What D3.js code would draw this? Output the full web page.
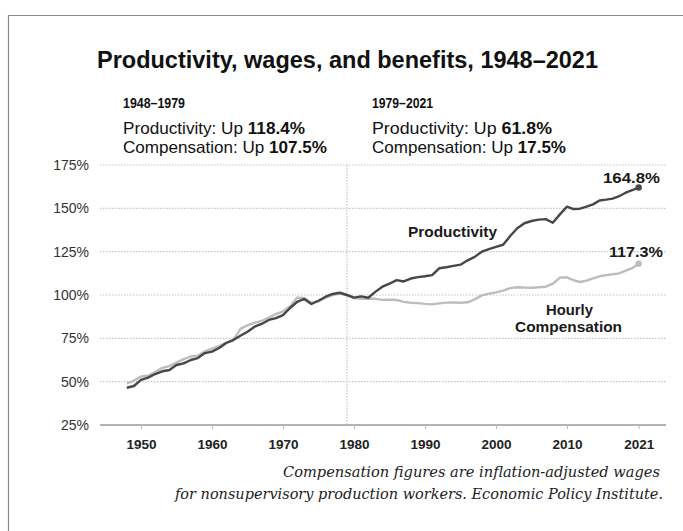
<!DOCTYPE html>
<html>
<head>
<meta charset="utf-8">
<script src="https://cdn.jsdelivr.net/npm/d3@7"></script>
<style>
  body { margin: 0; background: #fff; }
  svg { display: block; }
  .sans { font-family: "Liberation Sans", Arial, Helvetica, sans-serif; }
  .note { font-family: "DejaVu Serif", "Liberation Serif", serif; font-style: italic; }
</style>
</head>
<body>
<script>

// years 1948..2021
var firstYear = 1948;

var productivity = [
    46.5, 47.5, 51, 52.3, 54.4, 56, 56.7, 59.6, 60.6, 62.5,
    63.6, 66.5, 67.3, 69.4, 72.3, 74, 76.5, 78.8, 81.7, 83.3,
    85.6, 86.7, 88.4, 92.5, 96.1, 97.7, 94.8, 96.7, 99, 100.6,
    101.3, 100, 98.5, 99.2, 98.4, 101.8, 104.8, 106.5, 108.6, 107.8,
    109.5, 110.3, 110.8, 111.5, 115.4, 116, 116.8, 117.5, 120, 122,
    125, 126.5, 127.8, 129, 134, 138.5, 141.4, 142.7, 143.5, 143.8,
    141.7, 146.5, 151, 149.6, 149.8, 151, 152.3, 154.5, 155, 155.6,
    157, 159, 160.5, 162
];

var compensation = [
    49, 50.5, 53, 53.5, 55.5, 58, 59, 61, 63, 64.5,
    65, 67.5, 69, 70.5, 72.5, 74, 80.5, 82.5, 84, 85,
    87, 89, 90.5, 93.5, 98.5, 98.3, 95.5, 96.5, 98.5, 100,
    101, 100, 98.3, 97.8, 98, 97.8, 97.2, 97.3, 97.1, 96,
    95.5, 95.3, 94.9, 94.6, 95.2, 95.6, 95.7, 95.5, 95.8, 97.5,
    99.8, 100.8, 101.5, 102.5, 104, 104.5, 104.3, 104.2, 104.5, 104.8,
    106.5, 110, 110.2, 108.5, 107.5, 108.3, 109.6, 110.8, 111.5, 112,
    112.5, 114, 115.5, 118
];

var yTicks = [25, 50, 75, 100, 125, 150, 175];
var xTicks = [1950, 1960, 1970, 1980, 1990, 2000, 2010, 2021];
var splitYear = 1979;

var periodHeads = ["1948\u20131979", "1979\u20132021"];
var periodProd = ["118.4%", "61.8%"];
var periodComp = ["107.5%", "17.5%"];
var endLabels = ["164.8%", "117.3%"];

var width = 683, height = 531;

var svg = d3.select("body").append("svg")
    .attr("width", width)
    .attr("height", height);

// frame
svg.append("path")
    .attr("d", "M8.5,531 L8.5,15.5 L683,15.5")
    .attr("fill", "none")
    .attr("stroke", "#8a8a8a")
    .attr("stroke-width", 1.2);

var years = productivity.map(function(d, i) { return firstYear + i; });

var x = d3.scaleLinear()
    .domain([1948, 2010, 2021])
    .range([126.8, 567, 638.7]);

var y = d3.scaleLinear()
    .domain([25, 175])
    .range([425, 165]);

var plotLeft = 100, plotRight = 666;

// gridlines
svg.append("g").selectAll("line")
    .data(yTicks.filter(function(d) { return d > 25; }))
    .enter().append("line")
    .attr("x1", plotLeft)
    .attr("x2", plotRight)
    .attr("y1", function(d) { return y(d); })
    .attr("y2", function(d) { return y(d); })
    .attr("stroke", "#c4c4c4")
    .attr("stroke-width", 1.2)
    .attr("stroke-dasharray", "1.5,1.5");

// 1979 divider
svg.append("line")
    .attr("x1", x(splitYear))
    .attr("x2", x(splitYear))
    .attr("y1", y(175))
    .attr("y2", y(25))
    .attr("stroke", "#c4c4c4")
    .attr("stroke-width", 1.2)
    .attr("stroke-dasharray", "1.5,1.5");

// y axis labels
svg.append("g").selectAll("text")
    .data(yTicks)
    .enter().append("text")
    .attr("class", "sans")
    .attr("x", 89)
    .attr("y", function(d) { return y(d) + 5; })
    .attr("text-anchor", "end")
    .attr("font-size", 14)
    .attr("fill", "#333")
    .text(function(d) { return d + "%"; });

// x axis
var xAxis = svg.append("g")
    .attr("transform", "translate(0," + y(25) + ")")
    .call(d3.axisBottom(x).tickValues(xTicks).tickFormat(d3.format("d")).tickSize(4).tickPadding(10));

xAxis.select(".domain")
    .attr("d", "M" + plotLeft + ",0H" + plotRight)
    .attr("stroke", "#9a9a9a")
    .attr("stroke-width", 1.4);

xAxis.selectAll(".tick line")
    .attr("stroke", "#bbb");

xAxis.selectAll(".tick text")
    .attr("class", "sans")
    .attr("font-size", 13.5)
    .attr("font-weight", "bold")
    .attr("fill", "#222");

// lines
var line = d3.line()
    .x(function(d, i) { return x(years[i]); })
    .y(function(d) { return y(d); });

svg.append("path")
    .datum(compensation)
    .attr("fill", "none")
    .attr("stroke", "#bdbdbd")
    .attr("stroke-width", 2.4)
    .attr("stroke-linejoin", "round")
    .attr("d", line);

svg.append("path")
    .datum(productivity)
    .attr("fill", "none")
    .attr("stroke", "#474747")
    .attr("stroke-width", 2.4)
    .attr("stroke-linejoin", "round")
    .attr("d", line);

var lastYear = years[years.length - 1];

svg.append("circle")
    .attr("cx", x(lastYear))
    .attr("cy", y(productivity[productivity.length - 1]))
    .attr("r", 3.2)
    .attr("fill", "#474747");

svg.append("circle")
    .attr("cx", x(lastYear))
    .attr("cy", y(compensation[compensation.length - 1]))
    .attr("r", 3.2)
    .attr("fill", "#bdbdbd");

// bold labels inside the plot
function boldLabel(tx, ty, len, str) {
    return svg.append("text")
        .attr("class", "sans")
        .attr("x", tx)
        .attr("y", ty)
        .attr("font-size", 14.5)
        .attr("font-weight", "bold")
        .attr("fill", "#1a1a1a")
        .attr("textLength", len)
        .attr("lengthAdjust", "spacingAndGlyphs")
        .text(str);
}

boldLabel(603, 183, 57, endLabels[0]);
boldLabel(609, 257, 54, endLabels[1]);
boldLabel(408, 237, 89, "Productivity");
boldLabel(546, 315, 47, "Hourly");
boldLabel(515, 332, 107, "Compensation");

// title
svg.append("text")
    .attr("class", "sans")
    .attr("x", 97)
    .attr("y", 68)
    .attr("font-size", 23)
    .attr("font-weight", "bold")
    .attr("fill", "#111")
    .attr("textLength", 501)
    .attr("lengthAdjust", "spacingAndGlyphs")
    .text("Productivity, wages, and benefits, 1948\u20132021");

// period summaries
var blockX = [123, 372];
var headLen = [62, 61];
var prodLen = [182, 180];
var compLen = [204, 194];

blockX.forEach(function(bx, i) {
    svg.append("text")
        .attr("class", "sans")
        .attr("x", bx)
        .attr("y", 108)
        .attr("font-size", 15)
        .attr("font-weight", "bold")
        .attr("fill", "#111")
        .attr("textLength", headLen[i])
        .attr("lengthAdjust", "spacingAndGlyphs")
        .text(periodHeads[i]);

    var t1 = svg.append("text")
        .attr("class", "sans")
        .attr("x", bx)
        .attr("y", 133.5)
        .attr("font-size", 16.5)
        .attr("fill", "#111")
        .attr("textLength", prodLen[i])
        .attr("lengthAdjust", "spacingAndGlyphs");
    t1.append("tspan").text("Productivity: Up ");
    t1.append("tspan").attr("font-weight", "bold").text(periodProd[i]);

    var t2 = svg.append("text")
        .attr("class", "sans")
        .attr("x", bx)
        .attr("y", 153)
        .attr("font-size", 16.5)
        .attr("fill", "#111")
        .attr("textLength", compLen[i])
        .attr("lengthAdjust", "spacingAndGlyphs");
    t2.append("tspan").text("Compensation: Up ");
    t2.append("tspan").attr("font-weight", "bold").text(periodComp[i]);
});

// note
svg.append("text")
    .attr("class", "note")
    .attr("x", 283)
    .attr("y", 477)
    .attr("font-size", 14)
    .attr("fill", "#222")
    .attr("textLength", 377)
    .attr("lengthAdjust", "spacingAndGlyphs")
    .text("Compensation figures are inflation-adjusted wages");

svg.append("text")
    .attr("class", "note")
    .attr("x", 175)
    .attr("y", 499)
    .attr("font-size", 14)
    .attr("fill", "#222")
    .attr("textLength", 488)
    .attr("lengthAdjust", "spacingAndGlyphs")
    .text("for nonsupervisory production workers. Economic Policy Institute.");

</script>
</body>
</html>
